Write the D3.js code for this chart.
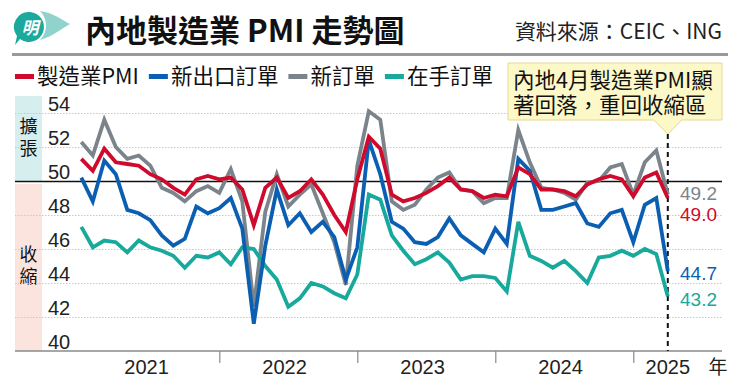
<!DOCTYPE html>
<html>
<head>
<meta charset="utf-8">
<script src="https://cdn.jsdelivr.net/npm/d3@7"></script>
<style>
  body { margin: 0; background: #fff; }
  svg { display: block; }
</style>
</head>
<body>
<div id="chart"></div>
<script>
// monthly readings, Jan 2021 - Apr 2025
const months = d3.timeMonth.range(new Date(2021, 0, 1), new Date(2025, 4, 1));

const pmi = [
  51.3, 50.6, 51.9, 51.1, 51.0, 50.9, 50.4, 50.1, 49.6, 49.2, 50.1, 50.3,
  50.1, 50.2, 49.5, 47.4, 49.6, 50.2, 49.0, 49.4, 50.1, 49.2, 48.0, 47.0,
  50.1, 52.6, 51.9, 49.2, 48.8, 49.0, 49.3, 49.7, 50.2, 49.5, 49.4, 49.0,
  49.2, 49.1, 50.8, 50.4, 49.5, 49.5, 49.4, 49.1, 49.8, 50.1, 50.3, 50.1,
  49.1, 50.2, 50.5, 49.0
];
const exportOrders = [
  50.2, 48.8, 51.2, 50.4, 48.3, 48.1, 47.7, 46.8, 46.2, 46.6, 48.5, 48.1,
  48.4, 49.0, 47.2, 41.6, 46.2, 49.5, 47.4, 48.1, 47.0, 47.6, 46.7, 44.2,
  46.1, 52.4, 50.4, 47.6, 47.2, 46.4, 46.3, 46.7, 47.8, 46.8, 46.3, 45.8,
  47.2, 46.3, 51.3, 50.6, 48.3, 48.3, 48.5, 48.7, 47.5, 47.3, 48.1, 48.3,
  46.4, 48.6, 49.0, 44.7
];
const newOrders = [
  52.3, 51.5, 53.6, 52.0, 51.3, 51.5, 50.9, 49.6, 49.3, 48.8, 49.4, 49.7,
  49.3, 50.7, 48.8, 42.6, 48.2, 50.4, 48.5, 49.2, 49.8, 48.1, 46.4, 43.9,
  50.9, 54.1, 53.6, 48.8, 48.3, 48.6, 49.5, 50.2, 50.5, 49.5, 49.4, 48.7,
  49.0, 49.0, 53.0, 51.1, 49.6, 49.5, 49.3, 48.9, 49.9, 50.0, 50.8, 51.0,
  49.2, 51.1, 51.8, 49.2
];
const backlog = [
  47.3, 46.1, 46.5, 46.4, 45.8, 46.5, 46.1, 45.9, 45.6, 44.9, 45.6, 45.5,
  45.8, 45.1, 46.1, 46.0, 45.0, 44.2, 42.6, 43.1, 44.0, 43.8, 43.4, 43.1,
  44.5, 49.2, 48.9, 46.8, 45.9, 45.1, 45.4, 45.8, 45.2, 44.2, 44.4, 44.4,
  44.3, 43.5, 47.6, 45.6, 45.3, 44.9, 45.3, 44.7, 44.0, 45.5, 45.6, 45.9,
  45.6, 46.0, 45.7, 43.2
];

const seriesNames = ["製造業PMI", "新出口訂單", "新訂單", "在手訂單"];
const seriesValues = [pmi, exportOrders, newOrders, backlog];
const yTicks = [40, 42, 44, 46, 48, 50, 52, 54];
const years = [2021, 2022, 2023, 2024, 2025];
const noteLines = ["內地4月製造業PMI顯", "著回落，重回收縮區"];

const colors = {
  "製造業PMI": "#cf0a2c",
  "新出口訂單": "#0b5fb3",
  "新訂單": "#7b848b",
  "在手訂單": "#17a99b"
};

const W = 740, H = 387;
const plotLeft = 15, plotRight = 722, plotTop = 113, plotBottom = 351;
const numFont = "'Liberation Sans', Arial, sans-serif";
const cjkFont = "'Noto Sans CJK TC', 'Noto Sans CJK SC', sans-serif";

const svg = d3.select("#chart").append("svg")
  .attr("width", W)
  .attr("height", H);

// scales
const x = d3.scalePoint()
  .domain(months.map(d => +d))
  .range([81.3, 667.8]);

const y = d3.scaleLinear()
  .domain([40, 54])
  .range([plotBottom, plotTop]);

// header
const logo = svg.append("g");
logo.append("path")
  .attr("d", "M40,11 C54,13 62,20 70,24 C62,28 54,36 40,40 C48,32 48,19 40,11 Z")
  .attr("fill", "#8fd3cc");
logo.append("path")
  .attr("d", "M30,12 A15,15 0 1 1 20,39 L15,45 L17,36 A15,15 0 0 1 30,12 Z")
  .attr("fill", "#1aa99c");
logo.append("text")
  .attr("x", 30).attr("y", 34)
  .attr("text-anchor", "middle")
  .attr("fill", "#fff")
  .style("font-family", cjkFont)
  .style("font-size", "17px")
  .style("font-weight", 700)
  .style("font-style", "italic")
  .text("明");

svg.append("text")
  .attr("x", 85).attr("y", 42)
  .style("font-family", cjkFont)
  .style("font-size", "31px")
  .style("font-weight", 700)
  .attr("fill", "#111")
  .text("內地製造業 PMI 走勢圖");

svg.append("text")
  .attr("x", 722).attr("y", 39)
  .attr("text-anchor", "end")
  .style("font-family", cjkFont)
  .style("font-size", "21px")
  .attr("fill", "#222")
  .text("資料來源：CEIC、ING");

svg.append("rect")
  .attr("x", 12).attr("y", 53)
  .attr("width", 716).attr("height", 3)
  .attr("fill", "#9a9a9a");

// legend
let lx = 15;
seriesNames.forEach(name => {
  svg.append("rect")
    .attr("x", lx).attr("y", 74)
    .attr("width", 19).attr("height", 5)
    .attr("fill", colors[name]);
  const t = svg.append("text")
    .attr("x", lx + 22).attr("y", 84)
    .style("font-family", cjkFont)
    .style("font-size", "21.5px")
    .attr("fill", "#111")
    .text(name);
  lx += 22 + t.node().getComputedTextLength() + 10;
});

// expansion / contraction bands
svg.append("rect")
  .attr("x", plotLeft).attr("y", 96)
  .attr("width", 27).attr("height", y(50) - 96)
  .attr("fill", "#d6eeee");
svg.append("rect")
  .attr("x", plotLeft).attr("y", y(50) + 3)
  .attr("width", 27).attr("height", plotBottom - y(50) - 3)
  .attr("fill", "#fce4de");

// vertical labels, one run each
[["擴張", 117], ["收縮", 245]].forEach(([word, ty]) => {
  svg.append("text")
    .attr("x", plotLeft + 13.5).attr("y", ty)
    .style("writing-mode", "vertical-rl")
    .style("letter-spacing", "4px")
    .style("font-family", cjkFont)
    .style("font-size", "18px")
    .attr("fill", "#111")
    .text(word);
});

// y grid + labels
const yAxis = svg.append("g")
  .attr("transform", `translate(${plotLeft},0)`)
  .call(d3.axisRight(y).tickValues(yTicks).tickSize(plotRight - plotLeft));
yAxis.select(".domain").remove();
yAxis.selectAll(".tick line")
  .attr("stroke", d => d === 50 ? "#111" : "#c8c8c8")
  .attr("stroke-width", d => d === 50 ? 1.6 : 1)
  .attr("stroke-dasharray", d => d === 50 ? null : "1.5,1.5")
  .style("display", d => d === 40 ? "none" : null);
yAxis.selectAll(".tick text")
  .attr("x", 33).attr("dy", null).attr("y", -3)
  .attr("text-anchor", "start")
  .style("font-family", numFont)
  .style("font-size", "20px")
  .attr("fill", "#222");

// x axis
svg.append("line")
  .attr("x1", plotLeft).attr("x2", plotRight)
  .attr("y1", plotBottom).attr("y2", plotBottom)
  .attr("stroke", "#8a8a8a")
  .attr("stroke-width", 1.5);

const xAxis = svg.append("g")
  .attr("transform", `translate(0,${plotBottom})`)
  .call(d3.axisBottom(x)
    .tickValues(years.slice(1).map(yr => +new Date(yr, 0, 1)))
    .tickSize(12)
    .tickFormat(""));
xAxis.select(".domain").remove();
xAxis.selectAll(".tick line").attr("stroke", "#8a8a8a").attr("stroke-width", 1.2);

years.forEach(yr => {
  const ms = months.filter(m => m.getFullYear() === yr).map(m => x(+m));
  const cx = ms.length === 12 ? d3.mean(ms) + 2 : d3.max(ms);
  svg.append("text")
    .attr("x", cx).attr("y", 374)
    .attr("text-anchor", "middle")
    .style("font-family", numFont)
    .style("font-size", "20px")
    .attr("fill", "#222")
    .text(yr);
});
svg.append("text")
  .attr("x", 718).attr("y", 374)
  .attr("text-anchor", "middle")
  .style("font-family", cjkFont)
  .style("font-size", "19px")
  .attr("fill", "#222")
  .text("年");

// dashed marker at latest month
const lastX = x(+months[months.length - 1]);
svg.append("line")
  .attr("x1", lastX).attr("x2", lastX)
  .attr("y1", 134).attr("y2", plotBottom)
  .attr("stroke", "#111")
  .attr("stroke-width", 2)
  .attr("stroke-dasharray", "5,4");

// lines
const line = d3.line()
  .x((d, i) => x(+months[i]))
  .y(d => y(d));

[2, 3, 1, 0].forEach(k => {
  svg.append("path")
    .datum(seriesValues[k])
    .attr("fill", "none")
    .attr("stroke", colors[seriesNames[k]])
    .attr("stroke-width", 3.8)
    .attr("stroke-linejoin", "miter")
    .attr("d", line);
});

// end labels
const endY = { "新訂單": 200, "製造業PMI": 221, "新出口訂單": 280, "在手訂單": 306 };
[2, 0, 1, 3].forEach(k => {
  const name = seriesNames[k];
  const v = seriesValues[k][seriesValues[k].length - 1];
  svg.append("text")
    .attr("x", 680).attr("y", endY[name])
    .style("font-family", numFont)
    .style("font-size", "19px")
    .attr("fill", colors[name])
    .text(v.toFixed(1));
});

// annotation callout
const note = svg.append("g");
note.append("path")
  .attr("d", `M508,63 H722 V120 H${lastX + 14} L${lastX},134 L${lastX - 14},120 H508 Z`)
  .attr("fill", "#fdf8c8")
  .attr("stroke", "#e5d98f")
  .attr("stroke-width", 1);
const noteText = note.append("text")
  .style("font-family", cjkFont)
  .style("font-size", "21.5px")
  .attr("fill", "#111");
noteLines.forEach((s, i) => {
  noteText.append("tspan")
    .attr("x", 513).attr("y", 88 + i * 25)
    .text(s);
});
</script>
</body>
</html>
